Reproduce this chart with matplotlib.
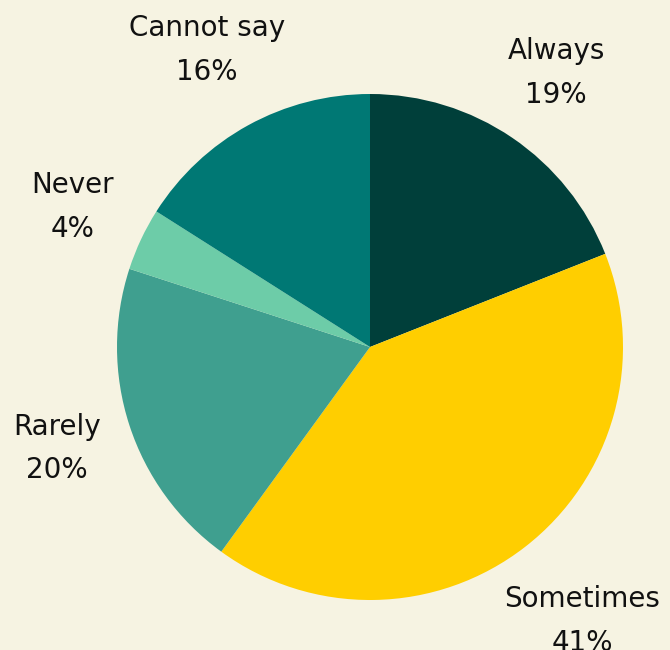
import matplotlib
matplotlib.use("Agg")
import matplotlib.pyplot as plt
import numpy as np

categories = ["Always", "Sometimes", "Rarely", "Never", "Cannot say"]
shares = [19, 41, 20, 4, 16]
colors = ["#003F3A", "#FFCE00", "#3F9F8F", "#6DCCA8", "#007874"]
label_dist = [1.31, 1.37, 1.30, 1.30, 1.34]
bg = "#F6F3E2"

W, H = 670, 650
fig = plt.figure(figsize=(W / 100, H / 100), dpi=100, facecolor=bg)
cx, cy, r = 370, 303, 253  # centre (from bottom) and radius in pixels
ax = fig.add_axes([(cx - r) / W, (cy - r) / H, 2 * r / W, 2 * r / H])
ax.set_facecolor(bg)

labels = [f"{c}\n{v}%" for c, v in zip(categories, shares)]
wedges, texts = ax.pie(
    shares,
    labels=labels,
    colors=colors,
    startangle=90,
    counterclock=False,
    labeldistance=1.31,
    radius=1.0,
    wedgeprops=dict(linewidth=0),
    textprops=dict(fontsize=20, color="#111111", family="DejaVu Sans",
                   linespacing=1.7),
)
for w, t, d in zip(wedges, texts, label_dist):
    theta = np.deg2rad((w.theta1 + w.theta2) / 2)
    t.set_position((d * np.cos(theta), d * np.sin(theta)))
    t.set_ha("center")
    t.set_va("center")
    t.set_clip_on(False)

ax.set_xlim(-1, 1)
ax.set_ylim(-1, 1)
ax.set_aspect("equal")
ax.axis("off")

fig.savefig("out.png", dpi=100, facecolor=bg)
